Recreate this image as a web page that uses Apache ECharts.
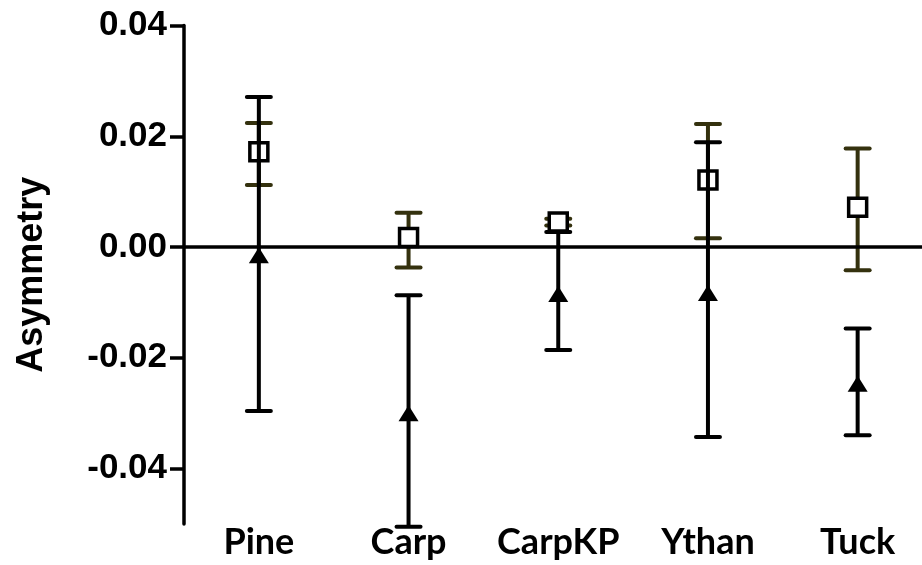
<!DOCTYPE html>
<html>
<head>
<meta charset="utf-8">
<script src="https://cdn.jsdelivr.net/npm/echarts@6/dist/echarts.min.js"></script>
<style>
  html, body { margin: 0; padding: 0; background: #fff; overflow: hidden; }
  #chart { width: 922px; height: 565px; }
</style>
</head>
<body>
<div id="chart"></div>
<script>
// Sites along the x axis
const categories = ['Pine', 'Carp', 'CarpKP', 'Ythan', 'Tuck'];

// Open-square group: mean with lower / upper error limits
const squareMean = [0.0172, 0.0017, 0.0045, 0.0121, 0.0072];
const squareLow  = [0.0112, -0.0037, 0.0039, 0.0016, -0.0042];
const squareHigh = [0.0224, 0.0062, 0.0051, 0.0222, 0.0178];

// Filled-triangle group: mean with lower / upper error limits
const triangleMean = [-0.0015, -0.0300, -0.0085, -0.0083, -0.0247];
const triangleLow  = [-0.0296, -0.0505, -0.0186, -0.0343, -0.0340];
const triangleHigh = [0.0271, -0.0087, 0.0027, 0.0189, -0.0147];

// Labelled y ticks
const yTicks = [-0.04, -0.02, 0, 0.02, 0.04];

const chart = echarts.init(document.getElementById('chart'), null, { renderer: 'canvas' });

function errorBars(low, high) {
  return categories.map((c, i) => [i, low[i], high[i]]);
}

function renderError(color) {
  return function (params, api) {
    const i = api.value(0);
    const lo = api.coord([i, api.value(1)]);
    const hi = api.coord([i, api.value(2)]);
    const half = 12;
    const style = { stroke: color, lineWidth: 4, lineCap: 'round' };
    return {
      type: 'group',
      children: [
        { type: 'line', shape: { x1: lo[0], y1: lo[1], x2: hi[0], y2: hi[1] },
          style: { stroke: color, lineWidth: 4 } },
        { type: 'line', shape: { x1: hi[0] - half, y1: hi[1], x2: hi[0] + half, y2: hi[1] }, style },
        { type: 'line', shape: { x1: lo[0] - half, y1: lo[1], x2: lo[0] + half, y2: lo[1] }, style }
      ]
    };
  };
}

const option = {
  animation: false,
  backgroundColor: '#ffffff',
  // the plot runs a little past the right edge of the canvas
  grid: { left: 184, width: 748.5, top: 25.5, bottom: 41.1, outerBoundsMode: 'none' },
  xAxis: {
    type: 'category',
    data: categories,
    boundaryGap: true,
    axisLine: { show: false },
    axisTick: { show: false },
    axisLabel: {
      interval: 0,
      color: '#000', fontFamily: 'Lato', fontWeight: 'bold', fontSize: 36, margin: 0
    },
    splitLine: { show: false }
  },
  yAxis: {
    type: 'value',
    min: -0.05,
    max: 0.04,
    name: 'Asymmetry',
    nameLocation: 'middle',
    nameRotate: 90,
    nameGap: 134,
    nameTextStyle: { color: '#000', fontFamily: 'Liberation Sans', fontWeight: 'bold', fontSize: 36 },
    axisLine: { show: true, lineStyle: { color: '#000', width: 3.5 } },
    axisTick: { show: true, customValues: yTicks, length: 14, lineStyle: { color: '#000', width: 3.5 } },
    axisLabel: {
      customValues: yTicks,
      formatter: v => v.toFixed(2),
      color: '#000', fontFamily: 'Liberation Sans', fontWeight: 'bold', fontSize: 35, margin: 17
    },
    splitLine: { show: false }
  },
  series: [
    {
      name: 'square error',
      type: 'custom',
      clip: false,
      z: 2,
      renderItem: renderError('#34310e'),
      data: errorBars(squareLow, squareHigh),
      markLine: {
        silent: true,
        symbol: 'none',
        label: { show: false },
        lineStyle: { color: '#000', width: 3.5, type: 'solid' },
        data: [{ yAxis: 0 }]
      }
    },
    {
      name: 'square',
      type: 'scatter',
      z: 3,
      symbol: 'rect',
      symbolSize: 18,
      itemStyle: { color: '#ffffff', borderColor: '#000', borderWidth: 3.5, opacity: 1 },
      data: squareMean.map((v, i) => [i, v])
    },
    {
      name: 'triangle error',
      type: 'custom',
      clip: false,
      z: 4,
      renderItem: renderError('#000000'),
      data: errorBars(triangleLow, triangleHigh)
    },
    {
      name: 'triangle',
      type: 'scatter',
      z: 5,
      symbol: 'triangle',
      symbolSize: [20, 16],
      itemStyle: { color: '#000', opacity: 1 },
      data: triangleMean.map((v, i) => [i, v])
    }
  ]
};

chart.setOption(option);
</script>
</body>
</html>
